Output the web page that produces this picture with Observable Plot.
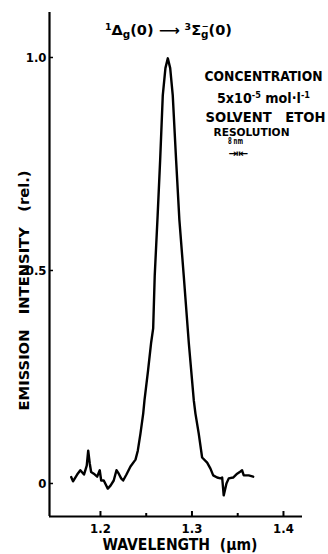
<!DOCTYPE html>
<html><head><meta charset="utf-8">
<script src="https://cdn.jsdelivr.net/npm/d3@7"></script>
<script src="https://cdn.jsdelivr.net/npm/@observablehq/plot@0.6"></script>
<style>
html,body{margin:0;padding:0;background:#fff;}
#chart svg{display:block;}
#chart svg text{font-stretch:condensed;}
</style></head><body><div id="chart"></div>
<script>
// ---- data ----
const wavelength = [1.168,1.170,1.1745,1.178,1.182,1.185,1.1866,1.1883,1.1898,1.1927,1.1964,1.1992,1.2008,1.2036,1.208,1.211,1.2145,1.2175,1.220,1.2226,1.2248,1.2284,1.2328,1.2383,1.2408,1.2437,1.2467,1.2481,1.2520,1.2554,1.2576,1.2593,1.2625,1.2652,1.2681,1.2710,1.2736,1.2762,1.2790,1.2827,1.2862,1.2910,1.2965,1.3020,1.3038,1.3074,1.3111,1.3166,1.3202,1.3232,1.3275,1.3311,1.3330,1.3347,1.3377,1.3402,1.3450,1.3494,1.3530,1.3548,1.3566,1.3620,1.3669];
const intensity  = [0.015,0.005,0.021,0.031,0.021,0.042,0.077,0.047,0.027,0.023,0.016,0.031,0.007,0.007,-0.012,-0.005,0.007,0.031,0.023,0.012,0.007,0.021,0.040,0.056,0.077,0.117,0.164,0.195,0.265,0.331,0.364,0.488,0.630,0.758,0.911,0.975,0.998,0.975,0.911,0.758,0.620,0.488,0.331,0.195,0.164,0.117,0.061,0.049,0.035,0.019,0.014,0.012,0.014,-0.028,0.000,0.012,0.014,0.023,0.028,0.031,0.019,0.019,0.016];
const xTicks = [1.2, 1.3, 1.4];
const xTickLabels = ["1.2", "1.3", "1.4"];
const xMinorTicks = [1.25, 1.35];
const yTicks = [0, 0.5, 1.0];
const yTickLabels = ["0", "0.5", "1.0"];
const xDomain = [1.1443, 1.4208];
const yDomain = [-0.0775, 1.1056];
const xLabel = "WAVELENGTH\u00a0\u00a0(\u03bcm)";
const yLabel = "EMISSION\u00a0\u00a0\u00a0INTENSITY\u00a0\u00a0\u00a0(rel.)";
const noteConcentration = "CONCENTRATION";
const noteSolvent = "SOLVENT\u00a0\u00a0\u00a0ETOH";
const noteResolution = "RESOLUTION";
const noteResolutionValue = "8 nm";
const noteResolutionSymbol = "\u21e5\u21e4";

// ---- layout ----
const W = 328, H = 554, mL = 49, mR = 26, mT = 12, mB = 38;
const innerW = W - mL - mR, innerH = H - mT - mB;
const FONT = "'DejaVu Sans','Liberation Sans',sans-serif";

const data = wavelength.map((x, i) => ({x, y: intensity[i]}));
const note = (txt, dx, dy, size) => Plot.text([txt], {frameAnchor: "top-left", textAnchor: "middle", lineAnchor: "middle",
  dx, dy, fontSize: size, fontWeight: "bold"});

const plot = Plot.plot({
  width: W, height: H,
  marginLeft: mL, marginRight: mR, marginTop: mT, marginBottom: mB,
  style: {fontFamily: FONT, background: "#fff", color: "#000"},
  x: {domain: xDomain},
  y: {domain: yDomain},
  marks: [
    Plot.axisX(xTicks, {tickSize: 0, tickPadding: 7, fontSize: 13, fontWeight: "bold",
      tickFormat: d => xTickLabels[xTicks.indexOf(d)], label: null}),
    Plot.axisY(yTicks, {tickSize: 0, tickPadding: 3, fontSize: 13, fontWeight: "bold",
      tickFormat: d => yTickLabels[yTicks.indexOf(d)], label: null}),
    Plot.ruleX([xDomain[0]], {strokeWidth: 2.2}),
    Plot.ruleY([yDomain[0]], {strokeWidth: 2.2}),
    Plot.ruleX(xTicks, {x: d => d, insetTop: innerH - 5, strokeWidth: 2}),
    Plot.ruleX(xMinorTicks, {x: d => d, insetTop: innerH - 3, strokeWidth: 2}),
    Plot.ruleY(yTicks, {y: d => d, insetRight: innerW - 4, strokeWidth: 1.5}),
    Plot.line(data, {x: "x", y: "y", strokeWidth: 2.4, strokeLinejoin: "round", strokeLinecap: "round"}),
    Plot.text([xLabel], {frameAnchor: "bottom", textAnchor: "middle", lineAnchor: "middle", dx: 4, dy: 29, fontSize: 15, fontWeight: "bold"}),
    Plot.text([yLabel], {frameAnchor: "left", textAnchor: "middle", lineAnchor: "middle", rotate: -90, dx: -25, dy: 26, fontSize: 14, fontWeight: "bold"}),
    note(noteConcentration, 214, 64, 14),
    note(noteSolvent, 216, 105, 14.5),
    note(noteResolution, 202, 120, 10),
    note(noteResolutionValue, 186, 129, 8.5),
    note(noteResolutionSymbol, 189, 141, 10)
  ]
});
document.getElementById("chart").appendChild(plot);

const svg = d3.select(plot);
// widths measured on the reference
const widths = new Map([[xLabel, 155], [yLabel, 240], [noteConcentration, 118], [noteSolvent, 120], [noteResolution, 76], [noteResolutionValue, 15], [noteResolutionSymbol, 20]]);
svg.selectAll("text").each(function() {
  const w = widths.get(this.textContent);
  if (w && this.childElementCount === 0) d3.select(this).attr("textLength", w).attr("lengthAdjust", "spacingAndGlyphs");
});

// rich text: transition title and concentration value
function rich(x, y, parts, size, len) {
  const t = svg.append("text").attr("x", x).attr("y", y).attr("text-anchor", "start")
    .attr("font-family", FONT).attr("font-weight", "bold").attr("font-size", size).attr("fill", "#000");
  for (const p of parts) {
    const s = t.append("tspan").text(p.t);
    if (p.dy) s.attr("dy", p.dy);
    if (p.dx) s.attr("dx", p.dx);
    if (p.s) s.attr("font-size", p.s);
  }
  if (len) t.attr("textLength", len).attr("lengthAdjust", "spacingAndGlyphs");
  return t;
}
rich(105, 35, [
  {t: "1", dy: -5, s: 9}, {t: "\u0394", dy: 5}, {t: "g", dy: 3, s: 10}, {t: "(0)", dy: -3},
  {t: " \u27f6 ", s: 14}, {t: "3", dy: -5, s: 9}, {t: "\u03a3", dy: 5}, {t: "g", dy: 3, s: 10},
  {t: "\u2212", dx: -6, dy: -9, s: 8}, {t: "(0)", dy: 6}
], 14, 127);
rich(217, 103, [
  {t: "5x10"}, {t: "-5", dy: -5, s: 9}, {t: " mol\u00b7l", dy: 5}, {t: "-1", dy: -5, s: 9}
], 14, 93);
</script></body></html>
